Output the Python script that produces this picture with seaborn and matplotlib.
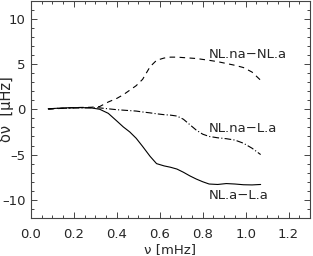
import numpy as np
import pandas as pd
import matplotlib
matplotlib.use("Agg")
import matplotlib.pyplot as plt
import seaborn as sns
from matplotlib.ticker import MultipleLocator, FuncFormatter

# frequency grid [mHz]
nu = [0.08, 0.13, 0.18, 0.23, 0.28, 0.32, 0.36, 0.40, 0.43, 0.46, 0.49, 0.52,
      0.555, 0.585, 0.62, 0.65, 0.68, 0.71, 0.74, 0.77, 0.80, 0.83, 0.87,
      0.91, 0.95, 0.99, 1.03, 1.07]

# frequency differences [muHz]
d_nlna_nla = [0.0, 0.08, 0.15, 0.2, 0.22, 0.3, 0.8, 1.2, 1.6, 2.1, 2.6, 3.3,
              4.7, 5.4, 5.65, 5.75, 5.75, 5.7, 5.65, 5.6, 5.5, 5.4, 5.25,
              5.05, 4.85, 4.6, 4.1, 3.2]
d_nlna_la = [0.05, 0.1, 0.12, 0.15, 0.16, 0.15, 0.05, -0.05, -0.1, -0.15,
             -0.2, -0.3, -0.4, -0.5, -0.6, -0.65, -0.75, -1.1, -1.7, -2.3,
             -2.75, -3.0, -3.15, -3.25, -3.4, -3.75, -4.3, -5.0]
d_nla_la = [0.05, 0.12, 0.17, 0.18, 0.15, 0.0, -0.45, -1.3, -1.95, -2.5,
            -3.2, -4.1, -5.2, -6.0, -6.25, -6.4, -6.6, -6.95, -7.35, -7.7,
            -8.0, -8.25, -8.3, -8.2, -8.25, -8.33, -8.35, -8.3]

labels = ["NL.na\u2212NL.a", "NL.na\u2212L.a", "NL.a\u2212L.a"]
label_pos = [(0.83, 6.0), (0.83, -2.1), (0.83, -9.5)]

df = pd.DataFrame({
    "nu": nu * 3,
    "dnu": d_nlna_nla + d_nlna_la + d_nla_la,
    "pair": np.repeat(labels, len(nu)),
})

sns.set_style("ticks")
plt.rcParams["font.family"] = ["DejaVu Sans"]
plt.rcParams["font.size"] = 9.5

fig = plt.figure(figsize=(3.13, 2.56), dpi=100)
ax = fig.add_axes([31 / 313, 38 / 256, 279 / 313, 217.5 / 256])

styles = {labels[0]: (0, (5, 4)), labels[1]: (0, (6, 2, 1, 2)), labels[2]: "-"}
for name in labels:
    sub = df[df["pair"] == name]
    sns.lineplot(data=sub, x="nu", y="dnu", ax=ax, color="black", lw=0.8,
                 linestyle=styles[name], legend=False)

for name, (x, y) in zip(labels, label_pos):
    ax.text(x, y, name, ha="left", va="center", fontsize=9.5)

ax.set_xlim(0, 1.3)
ax.set_ylim(-12, 12)
ax.xaxis.set_major_locator(MultipleLocator(0.2))
ax.xaxis.set_minor_locator(MultipleLocator(0.05))
ax.yaxis.set_major_locator(MultipleLocator(5))
ax.yaxis.set_minor_locator(MultipleLocator(1))
ax.xaxis.set_major_formatter(matplotlib.ticker.FormatStrFormatter("%.1f"))
ax.yaxis.set_major_formatter(FuncFormatter(
    lambda v, p: f"{v:.0f}".replace("-", "\u2013")))
ax.tick_params(which="both", direction="in", top=True, right=True,
               width=0.7, color="#444444")
ax.tick_params(which="major", length=4)
ax.tick_params(axis="x", which="major", pad=7)
ax.tick_params(axis="y", which="major", pad=4)
ax.tick_params(which="minor", length=2)
for sp in ax.spines.values():
    sp.set_linewidth(0.8)
    sp.set_color("#444444")

ax.set_xlabel("\u03bd [mHz]", labelpad=2)
ax.set_ylabel("\u03b4\u03bd  [\u03bcHz]", fontsize=10.5)
ax.yaxis.set_label_coords(-0.061, 0.5)

fig.savefig("out.png", dpi=100)
